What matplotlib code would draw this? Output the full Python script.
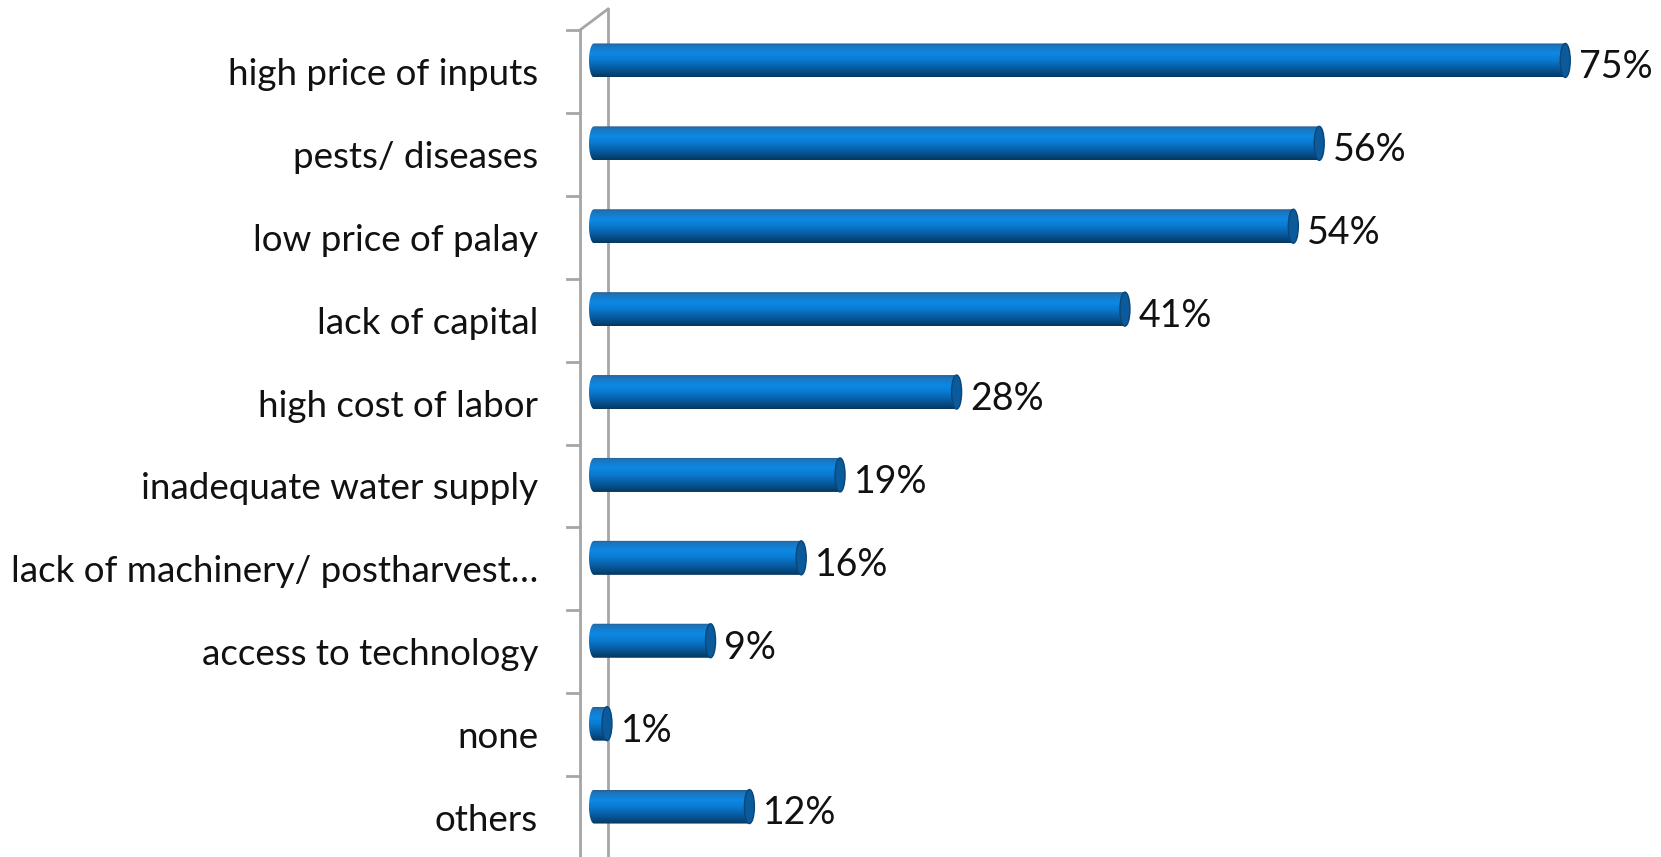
import numpy as np
import matplotlib
matplotlib.use("Agg")
import matplotlib.pyplot as plt
from matplotlib.patches import Polygon, Ellipse
from matplotlib.colors import LinearSegmentedColormap

categories = ["high price of inputs", "pests/ diseases", "low price of palay",
              "lack of capital", "high cost of labor", "inadequate water supply",
              "lack of machinery/ postharvest\u2026", "access to technology",
              "none", "others"]
values = [75, 56, 54, 41, 28, 19, 16, 9, 1, 12]

plt.rcParams['font.family'] = ['Lato', 'DejaVu Sans']

W, H, DPI = 1661, 857, 100
fig = plt.figure(figsize=(W / DPI, H / DPI), dpi=DPI)

# axes placed so that value 0 sits at the cylinder start
xmin, xmax = -3, 80
px_per_unit = 12.95
x0_px = 594
top_px = 30
cat_px = 82.9
left_px = x0_px + xmin * px_per_unit
ax = fig.add_axes([left_px / W, (H - top_px - cat_px * 10) / H,
                   (xmax - xmin) * px_per_unit / W, cat_px * 10 / H])

bar_h = 34 / cat_px
shift = -11 / cat_px          # bars sit a bit above category centre (3D depth)
cap_w = 10 / px_per_unit      # width of the end ellipse

grad = LinearSegmentedColormap.from_list("cyl", [
    (0.0, "#2a5f93"), (0.08, "#1a76c0"), (0.3, "#0d89e4"),
    (0.5, "#0a7ad0"), (0.75, "#075a9f"), (0.92, "#064475"), (1.0, "#05365e")])
gimg = np.linspace(0, 1, 64).reshape(-1, 1)

for i, v in enumerate(values):
    yc = i + shift
    a, b = cap_w / 2, bar_h / 2
    t = np.linspace(np.pi / 2, 3 * np.pi / 2, 40)
    left = np.column_stack([a * np.cos(t), yc - b * np.sin(t)])
    t2 = np.linspace(-np.pi / 2, np.pi / 2, 40)
    right = np.column_stack([v + a * np.cos(t2), yc - b * np.sin(t2)])
    shape = Polygon(np.vstack([left, right]), closed=True, fc="none", ec="none")
    ax.add_patch(shape)
    im = ax.imshow(gimg, cmap=grad, aspect="auto", origin="upper",
                   extent=(-a, v + a, yc + b, yc - b), zorder=3)
    im.set_clip_path(shape)
    ax.add_patch(Ellipse((v, yc), cap_w, bar_h, fc="#0b5a9b", ec="#0a4677",
                         lw=1, zorder=4))
    ax.annotate(f"{v}%", (v, i - 0.05), xytext=(10, 0), textcoords="offset points",
                va="center", ha="left", fontsize=27,
                color="#111111", zorder=5)

ax.set_xlim(xmin, xmax)
ax.set_ylim(9.5, -0.5)

# 3D wall: front axis with ticks, back edge and top diagonal
front = -14 / px_per_unit
back = 14 / px_per_unit
wall = "#a6a6a6"
ax.plot([front, front], [-0.5, 9.5], color=wall, lw=2, clip_on=False, zorder=1)
ax.plot([back, back], [-0.5 - 21 / cat_px, 9.5], color=wall, lw=2,
        clip_on=False, zorder=1)
ax.plot([front, back], [-0.5, -0.5 - 21 / cat_px], color=wall, lw=2,
        clip_on=False, zorder=1)
for k in range(len(categories) + 1):
    ax.plot([front - 13 / px_per_unit, front], [k - 0.5, k - 0.5],
            color=wall, lw=2, clip_on=False, zorder=1)

ax.set_yticks(range(len(categories)))
ax.set_yticklabels(categories, fontsize=26.5, color="#111111")
ax.tick_params(axis="y", length=0, pad=(56 + xmin * px_per_unit) * 0.72)
ax.set_xticks([])
for s in ax.spines.values():
    s.set_visible(False)

fig.savefig("out.png", dpi=DPI)
